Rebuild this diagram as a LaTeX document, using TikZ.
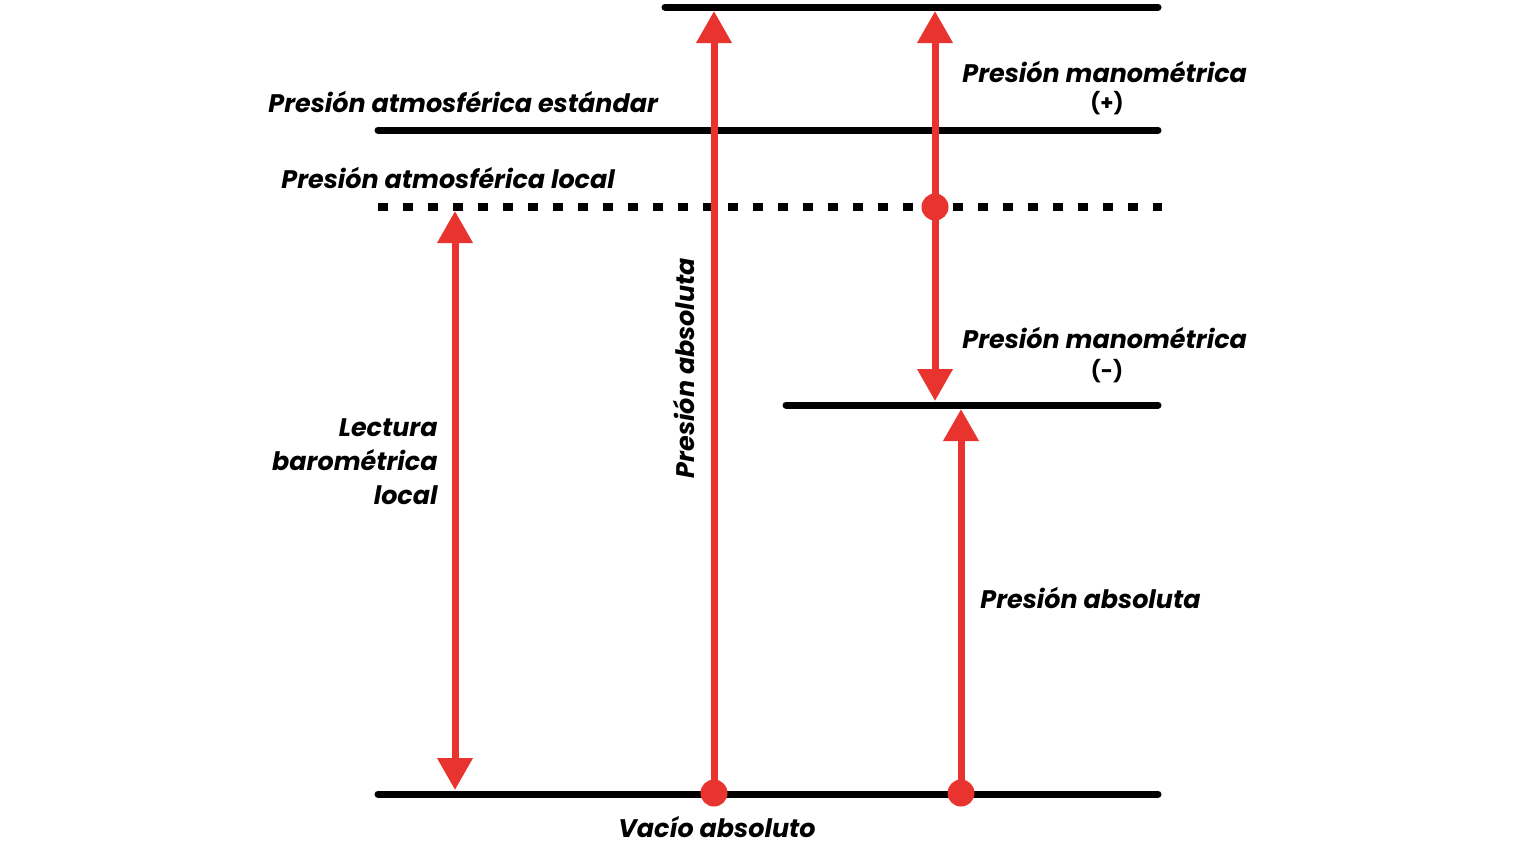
\documentclass[tikz,border=0pt]{standalone}
\usepackage{fontspec}
\setmainfont{Poppins}
\usetikzlibrary{arrows.meta}
\definecolor{ared}{HTML}{E8332F}
\tikzset{
  level/.style={line width=3.5pt, line cap=round, black},
  dotline/.style={line width=4pt, black, dash pattern=on 5pt off 7.5pt},
  redarrow/.style={line width=3.5pt, ared, -{Triangle[width=17pt,length=16pt]}},
  dbarrow/.style={line width=3.5pt, ared, {Triangle[width=17pt,length=16pt]}-{Triangle[width=17pt,length=16pt]}},
  reddot/.style={circle, fill=ared, inner sep=0pt, minimum size=13.5pt},
  lab/.style={font=\fontsize{12.7}{17}\selectfont\bfseries\itshape, inner sep=0pt},
  sign/.style={font=\fontsize{10.5}{12}\selectfont\bfseries, inner sep=0pt}
}
\begin{document}
\begin{tikzpicture}[x=0.5pt,y=-0.5pt]
\useasboundingbox (0,0) rectangle (1536,848);
% levels
\coordinate (t1) at (665,7); \coordinate (t2) at (1158,7);
\coordinate (s1) at (378,130); \coordinate (s2) at (1158,130);
\coordinate (l1) at (378,207); \coordinate (l2) at (1162,207);
\coordinate (n1) at (786,405); \coordinate (n2) at (1158,405);
\coordinate (v1) at (378,794); \coordinate (v2) at (1158,794);
\draw[level] (t1) -- (t2);
\draw[level] (s1) -- (s2);
\draw[dotline] (l1) -- (l2);
\draw[level] (n1) -- (n2);
\draw[level] (v1) -- (v2);
% dots
\node[reddot] (d1) at (714,793) {};
\node[reddot] (d2) at (961,793) {};
\node[reddot] (d3) at (935,207) {};
% arrow ends
\coordinate (a1) at (714,11);
\coordinate (a2) at (935,11);
\coordinate (a3) at (935,401);
\coordinate (a4) at (961,409);
\coordinate (b1) at (455,211);
\coordinate (b2) at (455,790);
\draw[redarrow] (d1.center) -- (a1);
\draw[redarrow] (d3.center) -- (a2);
\draw[redarrow] (d3.center) -- (a3);
\draw[redarrow] (d2.center) -- (a4);
\draw[dbarrow] (b1) -- (b2);
% labels
\node[lab, anchor=west] (ls) at (268,102) {Presión atmosférica estándar};
\node[lab, anchor=west] (ll) at (281,178) {Presión atmosférica local};
\node[lab, anchor=west] (gp) at (962,72) {Presión manométrica};
\node[sign] (gpp) at (1107,103) {(+)};
\node[lab, anchor=west] (gn) at (962,338) {Presión manométrica};
\node[sign] (gnn) at (1107,371) {(-)};
\node[lab, align=right, anchor=east] (lb) at (438,462) {Lectura\\barométrica\\local};
\node[lab, rotate=90] (pa1) at (684,368) {Presión absoluta};
\node[lab, anchor=west] (pa2) at (980,598) {Presión absoluta};
\node[lab] (va) at (717,827) {Vacío absoluto};
\end{tikzpicture}
\end{document}
